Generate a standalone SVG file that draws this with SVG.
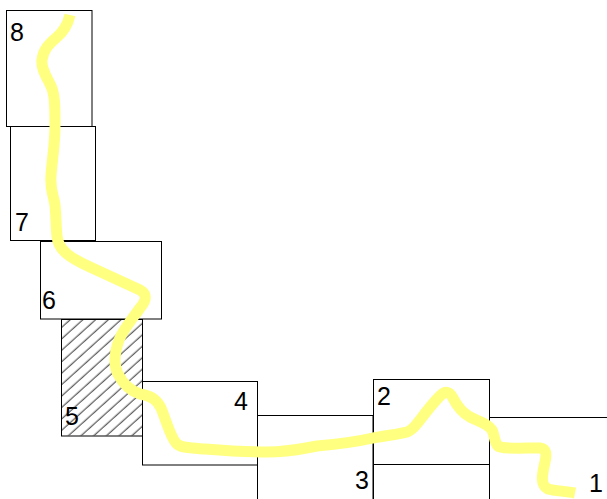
<svg xmlns="http://www.w3.org/2000/svg" width="607" height="499" viewBox="0 0 607 499">
<style>
.box{fill:#fff;stroke:#000;stroke-width:1}
.lbl{font-family:"Liberation Sans",Arial,sans-serif;font-size:25px;fill:#000}
.path{fill:none;stroke:#ffff80;stroke-width:11;stroke-linejoin:round;stroke-linecap:butt}
</style>
<defs>
<pattern id="hatch" patternUnits="userSpaceOnUse" width="8.5" height="8.5" patternTransform="rotate(-42)">
<line x1="0" y1="4" x2="8.5" y2="4" stroke="#000" stroke-width="0.8"/>
</pattern>
</defs>
<rect width="607" height="499" fill="#fff"/>
<g id="n8"><rect class="box" x="6.5" y="10.5" width="85.5" height="116"/><text class="lbl" x="10" y="41">8</text></g>
<g id="n7"><rect class="box" x="10.5" y="126.5" width="85" height="114"/><text class="lbl" x="15" y="231">7</text></g>
<g id="n6"><rect class="box" x="40.5" y="241.5" width="121" height="77.5"/><text class="lbl" x="42" y="309">6</text></g>
<g id="n5"><rect class="box" x="61.5" y="319.5" width="81" height="116.5"/><rect x="62" y="320" width="80" height="115.5" fill="url(#hatch)"/><text class="lbl" x="65" y="425">5</text></g>
<g id="n3"><rect class="box" x="257.5" y="415.5" width="115.5" height="95"/><text class="lbl" x="355" y="489">3</text></g>
<g id="n4"><rect class="box" x="142.5" y="381.5" width="115" height="83.5"/><text class="lbl" x="234" y="410">4</text></g>
<g id="n2b"><rect class="box" x="373.5" y="464.5" width="116" height="45"/></g>
<g id="n2"><rect class="box" x="373.5" y="379.5" width="116" height="85"/><text class="lbl" x="377" y="405">2</text></g>
<g id="n1"><rect class="box" x="489.5" y="417.5" width="130" height="95"/><text class="lbl" x="589" y="492">1</text></g>
<g id="connectors">
<path class="path" d="M70,15 C68,24 62,33 56,38 C49,44 43,50 42,60 C41,68 46,76 50,84 C55,93 55,105 55,126 C55,145 52,160 51,176 C50,192 54,196 55,205 C56,215 56,228 57,236 C58,250 70,258 90,267 L140,290 C147,294 147,300 140,308 C133,318 124,328 119,340 C114,354 114,366 118,374 C122,382 128,390 140,394 C152,396 157,400 161,408 C166,420 170,436 176,443 C180,448 190,448 205,449 C230,451 250,452 267,452 C290,452 300,449 317,446 C340,444 360,441 373,438 C390,435 400,434 407,432 C413,430 415,426 420,420 C426,412 432,404 440,396 C446,390 450,392 453,398 C457,406 461,412 470,417 C480,422 488,424 492,430 C495,436 494,442 498,446 C502,449 520,448 540,448 C546,449 547,453 545,462 C542,475 540,485 548,489 C555,491 565,491 575,493"/>
</g>
</svg>
